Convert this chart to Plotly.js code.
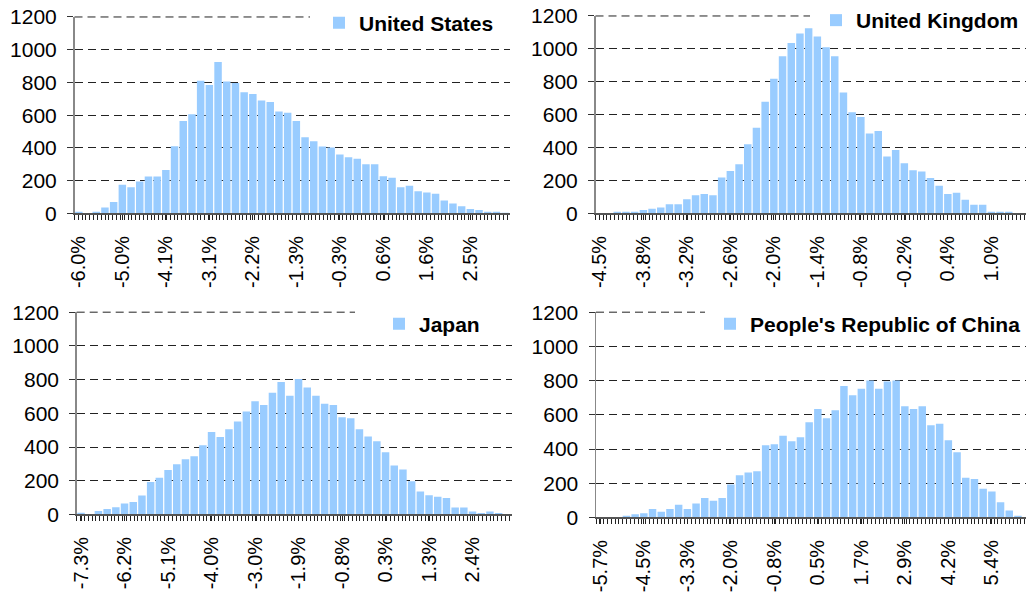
<!DOCTYPE html>
<html>
<head>
<meta charset="utf-8">
<script src="https://cdn.plot.ly/plotly-3.0.1.min.js"></script>
<style>html,body{margin:0;padding:0;background:#fff;}#chart{width:1026px;height:592px;}</style>
</head>
<body>
<div id="chart"></div>
<script>
// Series names
const seriesNames = ["United States", "United Kingdom", "Japan", "People's Republic of China"];

// Tick labels (every 5th bin)
const usLabels = ["-6.0%","-5.0%","-4.1%","-3.1%","-2.2%","-1.3%","-0.3%","0.6%","1.6%","2.5%"];
const ukLabels = ["-4.5%","-3.8%","-3.2%","-2.6%","-2.0%","-1.4%","-0.8%","-0.2%","0.4%","1.0%"];
const jpLabels = ["-7.3%","-6.2%","-5.1%","-4.0%","-3.0%","-1.9%","-0.8%","0.3%","1.3%","2.4%"];
const cnLabels = ["-5.7%","-4.5%","-3.3%","-2.0%","-0.8%","0.5%","1.7%","2.9%","4.2%","5.4%"];

// Frequency counts per bin
const usCounts = [10,0,10,35,70,175,160,195,225,225,
                  265,410,565,605,810,785,925,805,797,740,
                  730,690,680,622,615,565,465,440,408,402,
                  360,342,333,300,300,227,218,160,168,135,
                  127,120,78,60,43,27,20,10,10,3];
const ukCounts = [0,0,10,10,10,20,28,35,55,55,
                  85,110,118,110,218,258,298,420,520,678,
                  818,955,1035,1093,1125,1075,1010,955,735,615,
                  585,485,500,345,385,305,262,255,215,167,
                  118,125,82,52,52,10,10,10,0,0];
const jpCounts = [10,0,20,32,42,65,73,112,193,217,
                  264,298,327,345,410,489,460,505,552,610,
                  672,649,722,785,704,803,753,704,657,649,
                  576,570,505,463,434,369,290,266,197,136,
                  114,105,97,41,41,18,8,18,8,0];
const cnCounts = [0,0,0,10,18,25,49,33,49,74,
                  49,82,113,97,113,193,247,263,270,422,
                  428,477,445,469,556,634,580,626,768,714,
                  753,800,753,794,800,650,634,650,539,547,
                  451,381,232,224,167,152,89,41,10,0];

const Y_MAX = 1200;
const FONT = "Liberation Sans, Arial, Helvetica, sans-serif";
const BAR = "#99CCFF";
const GRID = "#222";
const DASH = "8px,5px";

const panels = [
  {name: seriesNames[0], counts: usCounts, labels: usLabels, xd: [74.5, 509.5], yd: [212.7, 16],
   leg: {x: 319, y: 23}, topGridEnd: 310},
  {name: seriesNames[1], counts: ukCounts, labels: ukLabels, xd: [595.5, 1026], yd: [212.7, 15],
   leg: {x: 816, y: 20}, topGridEnd: 810},
  {name: seriesNames[2], counts: jpCounts, labels: jpLabels, xd: [76.7, 511.7], yd: [514.3, 311.7],
   leg: {x: 379, y: 324}, topGridEnd: 355},
  {name: seriesNames[3], counts: cnCounts, labels: cnLabels, xd: [596, 1026], yd: [517.3, 311.7],
   leg: {x: 710, y: 324}, topGridEnd: 705}
];

const W = 1026, H = 592, BINPX = 8.7;
const traces = [];
const shapes = [];
const layout = {
  width: W, height: H,
  margin: {l: 0, r: 0, t: 0, b: 0},
  paper_bgcolor: "#fff", plot_bgcolor: "#fff",
  bargap: 0.14,
  font: {family: FONT, size: 21, color: "#000"},
  showlegend: true
};

panels.forEach((p, i) => {
  const n = i + 1;
  const xa = n === 1 ? "xaxis" : "xaxis" + n;
  const ya = n === 1 ? "yaxis" : "yaxis" + n;
  const yref = n === 1 ? "y" : "y" + n;
  const lg = n === 1 ? "legend" : "legend" + n;
  const idx = p.counts.map((_, k) => k);
  traces.push({
    type: "bar",
    x: idx, y: p.counts,
    name: p.name,
    xaxis: n === 1 ? "x" : "x" + n,
    yaxis: yref,
    legend: lg,
    marker: {color: BAR, line: {width: 0}},
    hoverinfo: "x+y"
  });
  const widthPx = p.xd[1] - p.xd[0];
  const yDomain = [1 - p.yd[0] / H, 1 - p.yd[1] / H];
  layout[xa] = {
    domain: [p.xd[0] / W, p.xd[1] / W],
    range: [-0.5, -0.5 + widthPx / BINPX],
    anchor: yref,
    showgrid: false, zeroline: false,
    showline: true, linecolor: "#555", linewidth: 1.5,
    ticks: "outside", ticklen: 5, tickcolor: "#222", tickwidth: 1,
    tickmode: "array",
    tickvals: p.labels.map((_, k) => k * 5),
    ticktext: p.labels,
    tickangle: -90,
    ticklabelstandoff: 8,
    tickfont: {family: FONT, size: 20, color: "#000"},
    minor: {ticks: "outside", dtick: 0.44, tick0: -0.5, ticklen: 5, tickcolor: "#222", tickwidth: 1, showgrid: false},
    fixedrange: true
  };
  layout[ya] = {
    domain: yDomain,
    range: [0, Y_MAX],
    anchor: n === 1 ? "x" : "x" + n,
    dtick: 200, tick0: 0,
    showgrid: true, gridcolor: GRID, gridwidth: 1, griddash: DASH,
    zeroline: false,
    showline: true, linecolor: "#888", linewidth: 1.5,
    ticks: "outside", ticklen: 6, tickcolor: "#333", tickwidth: 1,
    ticklabelstandoff: 6,
    tickfont: {family: FONT, size: 21, color: "#000"},
    fixedrange: true
  };
  // top (1200) gridline at the top of the plot area, interrupted by the legend
  shapes.push({
    type: "line", xref: "paper", yref: "paper",
    x0: p.xd[0] / W, x1: p.topGridEnd / W, y0: yDomain[1], y1: yDomain[1],
    line: {color: GRID, width: 1, dash: DASH},
    layer: "below"
  });
  layout[lg] = {
    x: p.leg.x / W, xanchor: "left",
    y: 1 - p.leg.y / H, yanchor: "middle",
    bgcolor: "rgba(0,0,0,0)", borderwidth: 0,
    font: {family: FONT, size: 21, color: "#000", weight: "bold"},
    itemwidth: 30
  };
});
layout.shapes = shapes;

Plotly.newPlot("chart", traces, layout, {staticPlot: true, displayModeBar: false});
</script>
</body>
</html>
